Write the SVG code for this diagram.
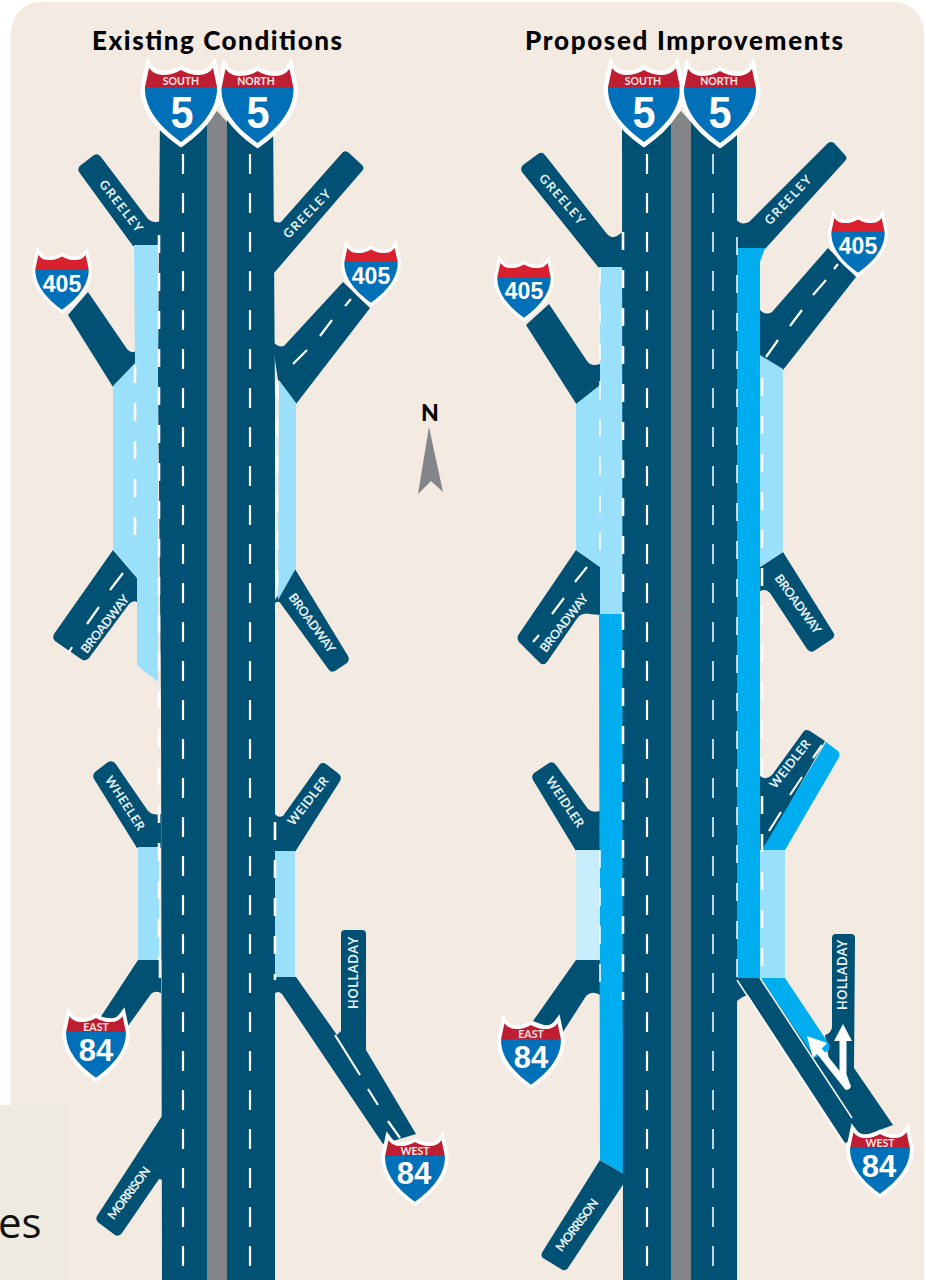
<svg xmlns="http://www.w3.org/2000/svg" width="926" height="1280" viewBox="0 0 926 1280">
<style>
.rd{fill:#005174}
.md{fill:#848589}
.pl{fill:#9be0fa}
.br{fill:#00aeef}
.d{stroke:#fff;stroke-width:2.2;fill:none}
.cl{stroke-dasharray:20 19}
.ed{stroke-dasharray:18 20;stroke-width:2.6}
.th{stroke-width:1.5}
.t{fill:#000;font-family:"Lato","Liberation Sans",sans-serif;font-weight:900;font-size:26px}
.l{fill:#e8f1f4;font-family:"Lato","Liberation Sans",sans-serif;font-weight:700;font-size:12.5px;text-anchor:middle}
.h{fill:#f6e6e6;font-family:"Lato","Liberation Sans",sans-serif;font-weight:700;font-size:10.5px;text-anchor:middle}
.n5{fill:#fff;font-family:"Liberation Sans",sans-serif;font-weight:700;font-size:45px;text-anchor:middle}
.n8{fill:#fff;font-family:"Liberation Sans",sans-serif;font-weight:700;font-size:31px;text-anchor:middle}
.n4{fill:#fff;font-family:"Liberation Sans",sans-serif;font-weight:700;font-size:23px;text-anchor:middle}
</style>
<defs>
<clipPath id="ct"><rect x="-50" y="-40" width="100" height="40"/></clipPath>
<clipPath id="cb"><rect x="-50" y="0" width="100" height="70"/></clipPath>
<path id="sp" d="M-32,-19 Q-27,-12 -18,-12 Q-8,-12 0,-17 Q8,-12 18,-12 Q27,-12 32,-19 L36,0 C37,22 20,41 0,55 C-20,41 -37,22 -36,0 Z"/>
<g id="sh">
<use href="#sp" fill="#fff" stroke="#fff" stroke-width="9" stroke-miterlimit="4"/>
<use href="#sp" clip-path="url(#ct)"/>
<use href="#sp" fill="#0071b9" clip-path="url(#cb)"/>
</g>
</defs>
<rect width="926" height="1280" fill="#fff"/>
<rect id="panel" x="11" y="2" width="913" height="1330" rx="30" fill="#f3eae2"/>

<g id="connectors">
<g id="existing-ramps" class="rd">
<path d="M79,172 Q77,168 81,165 L94,155 Q98,153 101,157 L148,219 Q153,224 161,221 L161,246 L133,246 Z"/>
<path d="M68,315 L88,292 L127,349 Q131,354 136,351 L136,364 L113,387 Z"/>
<path d="M113,550 L137,578 L137,602 Q133,600 129,604 L89,658 Q85,662 81,659 L55,641 Q52,638 54,634 Z"/>
<path d="M94,779 Q92,775 95,772 L108,762 Q112,760 115,763 L148,811 Q153,816 161,814 L161,848 L137,848 Z"/>
<path d="M138,960 L161,960 L161,993 Q155,990 151,994 L128,1026 L100,1018 Z"/>
<path d="M162,1116 L97,1216 Q95,1220 99,1223 L115,1235 Q119,1237 122,1233 L159,1179 L163,1180 Z"/>
<path d="M343,152 Q346,150 349,153 L362,165 Q365,168 362,171 L274,273 L272,218 Q275,224 281,222 Z"/>
<path d="M343,282 L370,308 L296,404 L278,380 L272,340 Q277,348 284,346 Z"/>
<path d="M275,603 Q279,600 281,604 L329,670 Q331,673 335,671 L347,663 Q350,660 348,656 L295,569 L275,600 Z"/>
<path d="M320,764 Q323,762 326,764 L339,774 Q342,777 340,781 L295,852 L273,852 L273,811 Q277,819 283,816 Z"/>
<path d="M275,977 L296,977 L337,1035 L341,1031 L341,934 Q341,930 345,930 L362,930 Q366,930 366,934 L366,1050 L416,1134 L383,1144 L282,994 Q278,990 274,994 Z"/>
</g>
<g id="proposed-ramps" class="rd">
<path d="M522,172 Q520,168 523,165 L538,154 Q542,151 545,155 L607,234 Q611,239 617,236 L624,231 L624,268 L599,268 Z"/>
<path d="M526,325 L549,304 L587,361 Q591,367 600,364 L601,385 L577,405 Z"/>
<path d="M576,550 L600,567 L600,615 L590,614 Q581,612 576,620 L547,662 Q544,666 540,663 L519,642 Q516,638 519,634 Z"/>
<path d="M533,780 Q531,776 534,773 L549,763 Q553,761 556,765 L588,809 Q592,813 600,811 L600,851 L576,851 Z"/>
<path d="M576,960 L600,960 L600,995 Q592,990 586,996 L563,1032 L533,1021 Z"/>
<path d="M600,1160 L624,1174 L624,1183 L568,1268 Q565,1272 561,1269 L543,1258 Q540,1255 543,1251 Z"/>
<path d="M828,143 Q831,141 834,143 L845,155 Q848,158 845,161 L765,249 L736,249 L736,219 Q741,226 749,222 Z"/>
<path d="M828,248 L856,277 L783,370 L760,356 L760,310 Q766,316 772,312 Z"/>
<path d="M783,552 L760,567 L760,591 Q766,588 770,593 L807,649 Q810,653 814,651 L832,639 Q836,636 833,632 Z"/>
<path d="M804,731 Q806,729 810,731 L825,741 L764,850 L760,850 L760,776 Q766,781 772,775 Z"/>
<path d="M737,976 L762,976 L829,1060 L825,1035 Q830,1034 832,1028 L832,938 Q832,934 836,934 L851,934 Q855,934 855,938 L854,1068 L893,1125 L845,1143 L748,995 Q743,996 737,1001 Z"/>
</g>
<g id="proposed-bright" class="br">
<path d="M599,614 H623 L624,1174 L600,1160 Z"/>
<path d="M737,248 L765,248 L760,262 L760,978 L737,978 Z"/>
<path d="M826,742 L838,751 Q841,755 838,759 L785,850 L762,850 Z"/>
<path d="M760,978 L785,978 L829,1044 L829,1050 L815,1058 Z"/>
</g>
<g id="pale-lanes" class="pl">
<path d="M134,245 H158 V682 L139,667 Q137,665 137,662 V578 L113,550 V386 L135,363 Z"/>
<path d="M279,380 L296,403 V568 L278,600 Z"/>
<rect x="138" y="847" width="21" height="113"/>
<rect x="275" y="851" width="20" height="126"/>
<path d="M600,267 H623 V614 H600 V567 L576,550 V404 L600,385 Z"/>
<path d="M760,355 L783,369 V552 L760,567 Z"/>
<rect x="576" y="850" width="24" height="110" fill="#c9eefb"/>
<rect x="760" y="850" width="25" height="128"/>
</g>
<g id="highways">
<path class="rd" d="M160,110 H207 V1280 H162 L161,700 L158,380 Z"/>
<path class="rd" d="M227,110 H273 L275,400 V1280 H227 Z"/>
<path class="md" d="M207,1280 H227 V122 L217,111 L207,122 Z"/>
<path class="rd" d="M622,110 H671 V1280 H623 Z"/>
<path class="rd" d="M691,110 H737 V1280 H691 Z"/>
<path class="md" d="M671,1280 H691 V122 L681,111 L671,122 Z"/>
<path d="M207,608 H227 M671,608 H691" stroke="#6f8a97" stroke-width="1"/>
</g>
<g id="lane-lines">
<path class="d cl" d="M183,154 V1280 M250,154 V1280 M647,154 V1280"/>
<path class="d cl th" d="M713,154 V1280"/>
<path class="d ed" d="M159,235 V960 M135,365 V555"/>
<path class="d ed" d="M277,380 V610 M275,822 V980 M160,960 V982"/>
<path class="d ed" d="M623,232 V1000 M762,378 V978"/>
<path class="d ed th" d="M737,237 V985 M600,267 V550 M600,850 V1000"/>
<path class="d" d="M293,364 L307,350 M320,336 L332,320 M345,306 L351,299 M110,590 L123,573 M87,624 L99,607 M68,654 L72,647 M335,1035 L360,1075 M368,1089 L378,1105 M388,1121 L400,1138"/>
<path class="d" d="M766,357 L778,340 M790,326 L802,310 M813,295 L826,280 M834,269 L838,264 M575,582 L587,567 M552,614 L564,598 M533,642 L539,635 M822,745 L813,758 M802,777 L790,795 M781,812 L769,831"/>
<path d="M760,978 L852,1118 M737,980 L843,1143" stroke="#fff" stroke-width="1.5" fill="none"/>
<g id="holladay-arrows" fill="none" stroke="#fff" stroke-width="7" stroke-linecap="round">
<path d="M847,1086 L843,1075 V1040"/>
<path d="M847,1086 L820,1052"/>
</g>
<path d="M843,1024 L852,1041 H834 Z M807,1036 L827,1043 L813,1058 Z" fill="#fff"/>
</g>
</g>

<g id="titles">
<text class="t" x="92" y="50" textLength="250">Existing Conditions</text>
<text class="t" x="525" y="50" textLength="318">Proposed Improvements</text>
</g>

<g id="north-arrow">
<text x="430" y="421" font-family="Lato,'Liberation Sans',sans-serif" font-weight="900" font-size="23" text-anchor="middle">N</text>
<path class="md" d="M429,427 L443,492 L431,481 L418,494 Z"/>
</g>

<g id="road-labels">
<text class="l" transform="translate(121,206) rotate(52)" dy=".35em" textLength="62">GREELEY</text>
<text class="l" transform="translate(307,214) rotate(-46)" dy=".35em" textLength="62">GREELEY</text>
<text class="l" transform="translate(105,624) rotate(-52)" dy=".35em" textLength="70">BROADWAY</text>
<text class="l" transform="translate(312,623) rotate(54)" dy=".35em" textLength="70">BROADWAY</text>
<text class="l" transform="translate(125,803) rotate(57)" dy=".35em" textLength="62">WHEELER</text>
<text class="l" transform="translate(308,801) rotate(-52)" dy=".35em" textLength="58">WEIDLER</text>
<text class="l" transform="translate(354,973) rotate(-90)" dy=".35em" textLength="72">HOLLADAY</text>
<text class="l" transform="translate(129,1193) rotate(-53)" dy=".35em" textLength="62">MORRISON</text>
<text class="l" transform="translate(562,199) rotate(49)" dy=".35em" textLength="62">GREELEY</text>
<text class="l" transform="translate(788,200) rotate(-47)" dy=".35em" textLength="62">GREELEY</text>
<text class="l" transform="translate(564,623) rotate(-52)" dy=".35em" textLength="70">BROADWAY</text>
<text class="l" transform="translate(798,604) rotate(54)" dy=".35em" textLength="70">BROADWAY</text>
<text class="l" transform="translate(565,802) rotate(56)" dy=".35em" textLength="58">WEIDLER</text>
<text class="l" transform="translate(790,764) rotate(-52)" dy=".35em" textLength="58">WEIDLER</text>
<text class="l" transform="translate(843,975) rotate(-90)" dy=".35em" textLength="70">HOLLADAY</text>
<text class="l" transform="translate(577,1225) rotate(-53)" dy=".35em" textLength="62">MORRISON</text>
</g>

<g id="i5-south-existing"><use href="#sh" fill="#be1e32" transform="translate(181,87)"/><text class="h" x="181" y="84.5">SOUTH</text><text class="n5" x="182" y="127.5" textLength="23" lengthAdjust="spacingAndGlyphs">5</text></g>
<g id="i5-north-existing"><use href="#sh" fill="#be1e32" transform="translate(257.5,88)"/><text class="h" x="256" y="85">NORTH</text><text class="n5" x="258" y="127.5" textLength="23" lengthAdjust="spacingAndGlyphs">5</text></g>
<g id="i405-west-existing"><use href="#sh" fill="#d9202e" transform="translate(62,269) scale(.74)"/><text class="n4" x="62" y="292">405</text></g>
<g id="i405-east-existing"><use href="#sh" fill="#d9202e" transform="translate(371,262) scale(.74)"/><text class="n4" x="371" y="284">405</text></g>
<g id="i84-east-existing"><use href="#sh" fill="#be1e32" transform="translate(96,1032) scale(.83)"/><text class="h" x="96" y="1031">EAST</text><text class="n8" x="96" y="1061">84</text></g>
<g id="i84-west-existing"><use href="#sh" fill="#be1e32" transform="translate(415,1156) scale(.83)"/><text class="h" x="415" y="1155">WEST</text><text class="n8" x="414" y="1184">84</text></g>
<g id="i5-south-proposed"><use href="#sh" fill="#be1e32" transform="translate(644,87)"/><text class="h" x="643" y="84.5">SOUTH</text><text class="n5" x="644" y="127.5" textLength="23" lengthAdjust="spacingAndGlyphs">5</text></g>
<g id="i5-north-proposed"><use href="#sh" fill="#be1e32" transform="translate(720,88)"/><text class="h" x="719" y="85">NORTH</text><text class="n5" x="720" y="127.5" textLength="23" lengthAdjust="spacingAndGlyphs">5</text></g>
<g id="i405-west-proposed"><use href="#sh" fill="#d9202e" transform="translate(524,277) scale(.74)"/><text class="n4" x="524" y="299">405</text></g>
<g id="i405-east-proposed"><use href="#sh" fill="#d9202e" transform="translate(858,232) scale(.74)"/><text class="n4" x="858" y="254">405</text></g>
<g id="i84-east-proposed"><use href="#sh" fill="#be1e32" transform="translate(531,1039) scale(.83)"/><text class="h" x="531" y="1038">EAST</text><text class="n8" x="531" y="1068">84</text></g>
<g id="i84-west-proposed"><use href="#sh" fill="#be1e32" transform="translate(880,1148) scale(.83)"/><text class="h" x="880" y="1147">WEST</text><text class="n8" x="879" y="1177">84</text></g>

<g id="overlay-box">
<rect x="0" y="1105" width="68" height="175" fill="#eeeae0"/>
<text x="-2" y="1238" font-family="'Open Sans','Liberation Sans',sans-serif" font-size="42" fill="#111">es</text>
</g>
</svg>
